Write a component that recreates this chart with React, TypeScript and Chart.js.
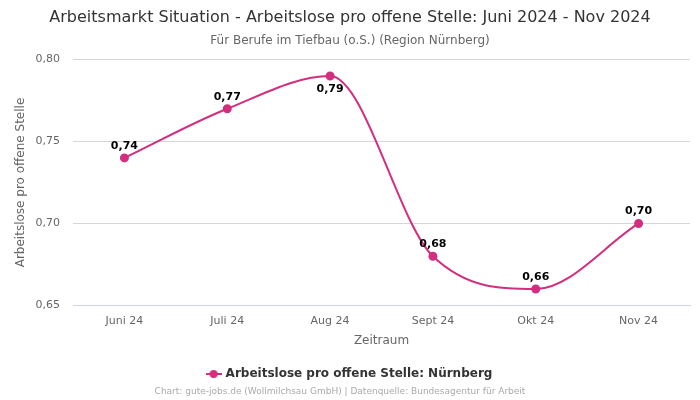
import React, { useEffect, useRef } from "react";
import { Chart, registerables } from "chart.js";

Chart.register(...registerables);

const categories = ["Juni 24", "Juli 24", "Aug 24", "Sept 24", "Okt 24", "Nov 24"];
const values = [0.74, 0.77, 0.79, 0.68, 0.66, 0.70];
const labelBelow = [false, false, true, false, false, false];
const seriesName = "Arbeitslose pro offene Stelle: Nürnberg";
const titleText = "Arbeitsmarkt Situation - Arbeitslose pro offene Stelle: Juni 2024 - Nov 2024";
const subtitleText = "Für Berufe im Tiefbau (o.S.) (Region Nürnberg)";
const footerText = "Chart: gute-jobs.de (Wollmilchsau GmbH) | Datenquelle: Bundesagentur für Arbeit";

const COLOR = "#d42e7e";
const FONT = "'DejaVu Sans', sans-serif";

const fmt = (v: number) => v.toFixed(2).replace(".", ",");

function makeLegendIcon() {
  const c = document.createElement("canvas");
  c.width = 16;
  c.height = 10;
  const g = c.getContext("2d")!;
  g.strokeStyle = COLOR;
  g.lineWidth = 2;
  g.beginPath();
  g.moveTo(0, 5);
  g.lineTo(16, 5);
  g.stroke();
  g.fillStyle = COLOR;
  g.beginPath();
  g.arc(8, 5, 4, 0, Math.PI * 2);
  g.fill();
  return c;
}

const labelPlugin = {
  id: "pointLabels",
  afterDatasetsDraw(chart: any) {
    const ctx = chart.ctx;
    const meta = chart.getDatasetMeta(0);
    ctx.save();
    ctx.font = `bold 11px ${FONT}`;
    ctx.fillStyle = "#000";
    ctx.textAlign = "center";
    ctx.textBaseline = "middle";
    meta.data.forEach((pt: any, i: number) => {
      const dy = labelBelow[i] ? 13 : -12;
      ctx.fillText(fmt(values[i]), pt.x, pt.y + dy);
    });
    ctx.restore();
  },
};

const footerPlugin = {
  id: "footerText",
  afterDraw(chart: any) {
    const ctx = chart.ctx;
    ctx.save();
    ctx.font = `9px ${FONT}`;
    ctx.fillStyle = "#aaa";
    ctx.textAlign = "center";
    ctx.textBaseline = "middle";
    ctx.fillText(footerText, 340, 392);
    ctx.restore();
  },
};

export default function App() {
  const ref = useRef<HTMLCanvasElement>(null);
  useEffect(() => {
    if (!ref.current) return;
    const icon = makeLegendIcon();
    const chart = new Chart(ref.current, {
      type: "line",
      data: {
        labels: categories,
        datasets: [
          {
            label: seriesName,
            data: values,
            borderColor: COLOR,
            backgroundColor: COLOR,
            borderWidth: 2,
            pointRadius: 3.5,
            pointHoverRadius: 3.5,
            pointBackgroundColor: COLOR,
            pointBorderColor: COLOR,
            pointStyle: "circle",
            cubicInterpolationMode: "monotone",
            fill: false,
          },
        ],
      },
      options: {
        animation: false,
        responsive: false,
        maintainAspectRatio: false,
        layout: { padding: { left: 10, right: 10, top: 0, bottom: 10 } },
        plugins: {
          title: {
            display: true,
            text: titleText,
            color: "#333",
            font: { family: FONT, size: 16, weight: "normal" },
            padding: { top: 8, bottom: 4 },
          },
          subtitle: {
            display: true,
            text: subtitleText,
            color: "#666",
            font: { family: FONT, size: 12, weight: "normal" },
            padding: { top: 2, bottom: 12 },
          },
          legend: {
            position: "bottom",
            labels: {
              usePointStyle: true,
              generateLabels: () => [
                {
                  text: seriesName,
                  pointStyle: icon,
                  fillStyle: COLOR,
                  strokeStyle: COLOR,
                  lineWidth: 0,
                  hidden: false,
                  datasetIndex: 0,
                  fontColor: "#333",
                },
              ],
              boxWidth: 16,
              boxHeight: 10,
              color: "#333",
              font: { family: FONT, size: 12, weight: "bold" },
              padding: 10,
            },
          },
          tooltip: { enabled: false },
        },
        scales: {
          x: {
            offset: true,
            grid: { display: false },
            border: { display: true, color: "#ccd6eb", width: 1, z: 1 },
            ticks: { color: "#666", font: { family: FONT, size: 11 }, padding: 1 },
            title: {
              display: true,
              text: "Zeitraum",
              color: "#666",
              font: { family: FONT, size: 12 },
              padding: { top: 5, bottom: 10 },
            },
          },
          y: {
            min: 0.65,
            max: 0.8,
            afterFit: (scale: any) => {
              scale.width = 63;
            },
            grid: {
              color: (c: any) => (c.index === 0 ? "#ccd6eb" : "#d6d6d6"),
              drawTicks: false,
            },
            border: { display: false },
            ticks: {
              stepSize: 0.05,
              color: "#666",
              font: { family: FONT, size: 11 },
              padding: 13,
              callback: (v: any) => fmt(Number(v)),
            },
            title: {
              display: true,
              text: "Arbeitslose pro offene Stelle",
              color: "#666",
              font: { family: FONT, size: 12 },
              padding: { top: 4, bottom: 0 },
            },
          },
        },
      },
      plugins: [labelPlugin, footerPlugin],
    } as any);
    return () => chart.destroy();
  }, []);
  return (
    <div style={{ position: "fixed", left: 0, top: 0, width: 700, height: 400, background: "#fff" }}>
      <canvas ref={ref} width={700} height={400} style={{ width: 700, height: 400 }} />
    </div>
  );
}
